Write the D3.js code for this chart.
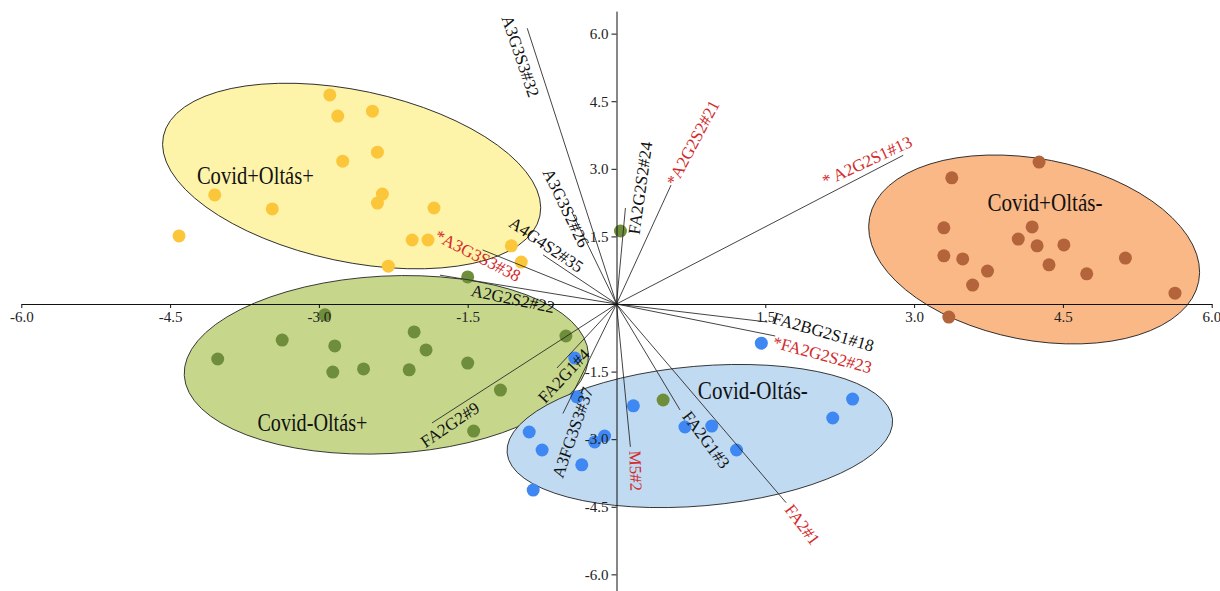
<!DOCTYPE html>
<html>
<head>
<meta charset="utf-8">
<script src="https://cdn.jsdelivr.net/npm/d3@7"></script>
<style>
  html, body { margin: 0; padding: 0; background: #fff; }
  svg { display: block; }
  text { font-family: "Liberation Serif", "Times New Roman", serif; }
</style>
</head>
<body>
<svg id="chart" width="1220" height="591"></svg>
<script>
// ---- group scores (PC1, PC2) ----
const covidPosVaxPosX = [-2.89, -2.81, -2.46, -2.76, -2.41, -4.05, -3.47, -2.36, -2.41, -1.84, -4.41, -2.06, -1.90, -2.30, -1.06, -0.96];
const covidPosVaxPosY = [4.64, 4.17, 4.28, 3.17, 3.37, 2.42, 2.11, 2.44, 2.24, 2.13, 1.51, 1.42, 1.42, 0.84, 1.29, 0.93];

const covidNegVaxPosX = [-1.50, -2.94, -2.04, -3.37, -2.84, -1.92, -4.02, -1.50, -2.86, -2.55, -2.09, -0.51, -1.17, -1.44, 0.04, 0.47];
const covidNegVaxPosY = [0.60, -0.24, -0.62, -0.80, -0.93, -1.02, -1.22, -1.31, -1.51, -1.44, -1.46, -0.71, -1.91, -2.82, 1.62, -2.13];

const covidNegVaxNegX = [1.46, -0.42, -0.40, 0.17, 2.38, 2.18, 0.69, 0.96, -0.88, -0.12, -0.22, 1.21, -0.75, -0.35, -0.84];
const covidNegVaxNegY = [-0.87, -1.20, -2.06, -2.26, -2.11, -2.53, -2.73, -2.71, -2.84, -2.93, -3.06, -3.24, -3.24, -3.57, -4.13];

const covidPosVaxNegX = [4.26, 3.38, 3.30, 4.19, 4.05, 4.24, 4.51, 3.30, 3.49, 5.13, 3.74, 4.36, 4.74, 3.59, 5.63, 3.35];
const covidPosVaxNegY = [3.15, 2.80, 1.69, 1.71, 1.44, 1.29, 1.31, 1.07, 1.00, 1.02, 0.73, 0.87, 0.67, 0.42, 0.24, -0.29];

// ---- group names ----
const groupNames = ["Covid+Oltás+", "Covid-Oltás+", "Covid-Oltás-", "Covid+Oltás-"];

// ---- confidence ellipses: centre, semi-axes (in axis units), tilt ----
const ellipseCX = [-2.67, -2.32, 0.84, 4.21];
const ellipseCY = [2.84, -1.35, -2.93, 1.21];
const ellipseRX = [1.94, 2.04, 1.95, 1.69];
const ellipseRY = [1.90, 1.97, 1.55, 2.01];
const ellipseTilt = [12, -3, -5, 11];

// ---- glycan loadings ----
const loadingNames = ["A3G3S3#32", "A3G3S2#26", "A4G4S2#35", "*A3G3S3#38", "A2G2S2#22", "FA2G2S2#24",
  "*A2G2S2#21", "* A2G2S1#13", "FA2BG2S1#18", "*FA2G2S2#23", "FA2G1#3", "FA2#1", "M5#2",
  "A3FG3S3#37", "FA2G1#4", "FA2G2#9"];
const loadingX = [-0.90, -0.45, -0.74, -1.35, -1.78, 0.09, 0.55, 2.89, 1.52, 1.60, 0.64, 1.71, 0.14, -0.54, -0.60, -1.86];
const loadingY = [6.12, 2.04, 1.09, 1.20, 0.64, 2.13, 2.64, 3.30, -0.40, -0.71, -2.35, -4.41, -3.17, -2.43, -1.42, -2.64];
const loadingSignificant = [false, false, false, true, false, false, true, true, false, true, false, true, true, false, false, false];

// ---- axis ticks ----
const xTicks = [-6.0, -4.5, -3.0, -1.5, 1.5, 3.0, 4.5, 6.0];
const yTicks = [6.0, 4.5, 3.0, 1.5, -1.5, -3.0, -4.5, -6.0];

// ---- styling ----
const ellipseFill = ["#fdf3a9", "#c6d78c", "#bfdaf1", "#f9b886"];
const pointFill = ["#fcc63a", "#6e8e3c", "#3f88f3", "#b4643a"];
const redText = "#d22a2a";

// label placement: offset of label centre from vector tip (px) and rotation (deg)
const labelLayout = [
  [-7, 28, 71], [-6, -4, 64], [3, -10, 34], [-5, 6, 27], [73, 24, 12], [15, -20, -82],
  [22, -42, -62], [-36, 6, -25], [56, 10, 16], [47, 19, 15], [26, 30, 53], [16, 22, 53],
  [5, 24, 88], [10, 19, -71], [7, 8, -47], [18, 2, -34]
];
// group label anchors in axis units
const groupLabelX = [-4.23, -3.62, 0.82, 3.74];
const groupLabelY = [2.66, -2.82, -2.11, 2.06];
const groupLabelWidth = [117, 110, 110, 115];

const svg = d3.select("#chart");
const x = d3.scaleLinear().domain([-6, 6]).range([21.3, 1211.7]);
const y = d3.scaleLinear().domain([-6.5, 6.5]).range([596.9, 11.1]);

const groups = [
  { xs: covidPosVaxPosX, ys: covidPosVaxPosY },
  { xs: covidNegVaxPosX, ys: covidNegVaxPosY },
  { xs: covidNegVaxNegX, ys: covidNegVaxNegY },
  { xs: covidPosVaxNegX, ys: covidPosVaxNegY }
];

// ellipses
const ellG = svg.append("g");
groupNames.forEach((g, i) => {
  const pxRx = x(ellipseRX[i]) - x(0);
  const pxRy = y(0) - y(ellipseRY[i]);
  ellG.append("ellipse")
    .attr("transform", `translate(${x(ellipseCX[i])},${y(ellipseCY[i])}) rotate(${ellipseTilt[i]})`)
    .attr("rx", pxRx).attr("ry", pxRy)
    .attr("fill", ellipseFill[i])
    .attr("stroke", "#2a2a2a").attr("stroke-width", 0.9);
});

// score points
const ptG = svg.append("g");
groups.forEach((g, i) => {
  ptG.selectAll(null).data(g.xs.map((v, k) => [v, g.ys[k]])).enter()
    .append("circle")
    .attr("cx", d => x(d[0])).attr("cy", d => y(d[1]))
    .attr("r", 6.5)
    .attr("fill", pointFill[i]);
});

// loading vectors
const vecG = svg.append("g");
loadingNames.forEach((n, i) => {
  vecG.append("line")
    .attr("x1", x(0)).attr("y1", y(0))
    .attr("x2", x(loadingX[i])).attr("y2", y(loadingY[i]))
    .attr("stroke", "#222").attr("stroke-width", 0.85);
});

// axes
const xAxis = d3.axisBottom(x).tickValues(xTicks).tickFormat(d => d.toFixed(1)).tickSize(4).tickSizeOuter(0);
const yAxis = d3.axisLeft(y).tickValues(yTicks).tickFormat(d => d.toFixed(1)).tickSize(5).tickSizeOuter(0);
const gx = svg.append("g").attr("transform", `translate(0,${y(0)})`).call(xAxis);
const gy = svg.append("g").attr("transform", `translate(${x(0)},0)`).call(yAxis);
[gx, gy].forEach(g => {
  g.select(".domain").attr("stroke", "#111").attr("stroke-width", 1);
  g.selectAll(".tick line").attr("stroke", "#111");
  g.selectAll(".tick text").attr("font-family", "Liberation Serif, serif").attr("font-size", 15).attr("fill", "#222");
});
// keep the outermost x label inside the frame
gx.selectAll(".tick text").filter(d => d === 6).attr("text-anchor", "end").attr("x", 9);

// loading labels
const labG = svg.append("g");
loadingNames.forEach((n, i) => {
  const [dx, dy, ang] = labelLayout[i];
  labG.append("text")
    .attr("transform", `translate(${x(loadingX[i]) + dx},${y(loadingY[i]) + dy}) rotate(${ang})`)
    .attr("text-anchor", "middle")
    .attr("dominant-baseline", "central")
    .attr("font-size", 17)
    .attr("fill", loadingSignificant[i] ? redText : "#111")
    .text(n);
});

// group labels
groupNames.forEach((g, i) => {
  svg.append("text")
    .attr("x", x(groupLabelX[i])).attr("y", y(groupLabelY[i]))
    .attr("font-size", 25)
    .attr("fill", "#111")
    .attr("textLength", groupLabelWidth[i])
    .attr("lengthAdjust", "spacingAndGlyphs")
    .text(g);
});
</script>
</body>
</html>
